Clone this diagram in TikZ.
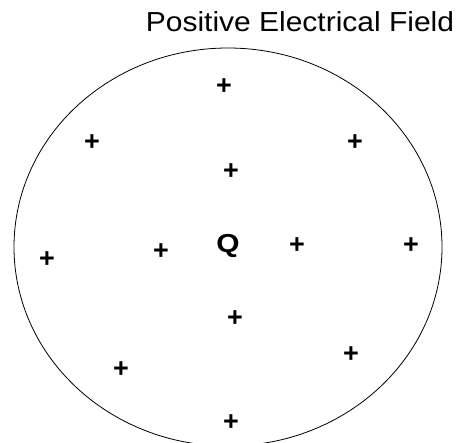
\documentclass[tikz,border=0pt]{standalone}
\usepackage{fontspec}
\setmainfont{Liberation Sans}
\begin{document}
\begin{tikzpicture}[x=1pt,y=-1pt,
  plus/.style={inner sep=0pt, font=\fontsize{27}{27}\selectfont\bfseries},
  title/.style={inner sep=0pt, font=\fontsize{27.5}{28}\selectfont},
  charge/.style={inner sep=0pt, font=\fontsize{26}{26}\selectfont\bfseries}]
\useasboundingbox (0,0) rectangle (468,443);
\clip (0,0) rectangle (468,443);
\draw[line width=0.8pt] (228,247) ellipse [x radius=214, y radius=199];
\node[title] (t) at (300,22) {\scalebox{1.09}[1]{Positive Electrical Field}};
\node[charge] (q) at (228,246) {\scalebox{1.15}[1]{Q}};
\foreach \n/\x/\y in {p1/224/87, p2/92/143, p3/355/143, p4/231/172, p5/47/260, p6/161/252, p7/297/246, p8/411/246, p9/235/319, p10/351/355, p11/121/370, p12/231/423}
  \node[plus] (\n) at (\x,\y) {+};
\end{tikzpicture}
\end{document}
